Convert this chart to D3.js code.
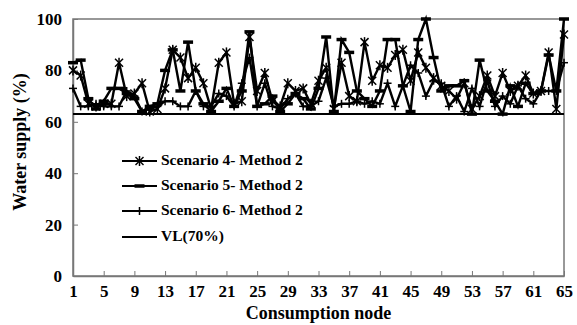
<!DOCTYPE html>
<html><head><meta charset="utf-8">
<script src="https://cdn.jsdelivr.net/npm/d3@7"></script>
<style>body{margin:0;background:#fff}text{font-family:"Liberation Serif","Times New Roman",serif;font-weight:bold}</style>
</head><body><svg id="c" width="577" height="325"></svg>
<script>
const nodes = d3.range(1, 66);
const xTicks = [1,5,9,13,17,21,25,29,33,37,41,45,49,53,57,61,65];
const yTicks = [0,20,40,60,80,100];
const seriesNames = ["Scenario 4- Method 2","Scenario 5- Method 2","Scenario 6- Method 2","VL(70%)"];
const s4 = [80,78,67,66,67,67,83,70,71,75,64,65,73,88,85,77,81,75,65,83,87,67,68,93,72,79,68,66,75,72,73,67,76,81,65,83,70,68,91,76,82,81,86,88,76,87,81,77,74,72,69,75,65,70,78,70,79,72,74,78,71,72,87,65,94];
const s5 = [83,84,69,65,68,73,73,71,69,64,66,67,80,88,72,91,72,67,64,68,73,66,72,95,66,67,70,64,67,71,69,65,73,93,64,92,87,72,69,66,72,92,92,74,64,92,100,85,72,74,74,76,63,84,72,68,63,74,66,75,71,72,86,72,100];
const s6 = [73,66,66,67,66,66,66,72,70,64,65,66,68,68,66,66,72,66,66,71,70,66,75,85,66,75,66,65,69,71,66,66,68,77,66,67,67,68,67,68,67,75,66,74,82,79,70,76,75,66,70,64,73,66,76,66,70,67,74,69,67,72,72,72,83];
const vl = 63;

const svg = d3.select("#c");
const L=73,R=564,T=19,B=276;
const x = d3.scaleLinear().domain([1,65]).range([L,R]);
const y = d3.scaleLinear().domain([0,100]).range([B,T]);
const grey="#777";

svg.append("rect").attr("x",L).attr("y",T).attr("width",R-L).attr("height",B-T).attr("fill","none").attr("stroke",grey).attr("stroke-width",1.5);

const xa = svg.append("g").attr("transform",`translate(0,${B})`)
  .call(d3.axisBottom(x).tickValues(xTicks).tickSizeInner(-5).tickSizeOuter(0).tickPadding(9));
const ya = svg.append("g").attr("transform",`translate(${L},0)`)
  .call(d3.axisLeft(y).tickValues(yTicks).tickSizeInner(-5).tickSizeOuter(0).tickPadding(11));
[xa,ya].forEach(a=>{a.selectAll("path").attr("stroke",grey).attr("stroke-width",1.5);
  a.selectAll("line").attr("stroke",grey).attr("stroke-width",1);
  a.selectAll("text").attr("font-size",17).attr("fill","#000").attr("font-family","Liberation Serif").attr("font-weight","bold");});

svg.append("text").attr("x",(L+R)/2 - 0).attr("y",319).attr("text-anchor","middle").attr("font-size",18).text("Consumption node");
svg.append("text").attr("transform",`translate(22,${142}) rotate(-90)`).attr("text-anchor","middle").attr("dominant-baseline","middle").attr("font-size",18).text("Water supply (%)");

function marker(g, type){
  const s=4;
  if(type==="star"){
    g.append("line").attr("x1",-s).attr("y1",-s).attr("x2",s).attr("y2",s);
    g.append("line").attr("x1",-s).attr("y1",s).attr("x2",s).attr("y2",-s);
    g.append("line").attr("x1",0).attr("y1",-s-1).attr("x2",0).attr("y2",s+1);
  } else if(type==="dash"){
    g.append("line").attr("x1",-s-1).attr("y1",0).attr("x2",s+1).attr("y2",0).attr("stroke-width",3.5);
  } else if(type==="plus"){
    g.append("line").attr("x1",-s).attr("y1",0).attr("x2",s).attr("y2",0);
    g.append("line").attr("x1",0).attr("y1",-s).attr("x2",0).attr("y2",s);
  }
  g.selectAll("line").attr("stroke","#000").each(function(){ if(!this.getAttribute("stroke-width")) this.setAttribute("stroke-width",1.5);});
}

const line = d3.line().x((d,i)=>x(nodes[i])).y(d=>y(d));
const series = [[s4,"star"],[s5,"dash"],[s6,"plus"]];
svg.append("line").attr("x1",x(1)).attr("x2",x(65)).attr("y1",y(vl)).attr("y2",y(vl)).attr("stroke","#000").attr("stroke-width",2);
series.forEach(([data,type])=>{
  svg.append("path").datum(data).attr("d",line).attr("fill","none").attr("stroke","#000").attr("stroke-width",2.4).attr("stroke-linejoin","miter");
  data.forEach((v,i)=>{ const g=svg.append("g").attr("transform",`translate(${x(nodes[i])},${y(v)})`); marker(g,type);});
});

const legY=[161,186,211,237];
const types=["star","dash","plus",null];
seriesNames.forEach((n,i)=>{
  svg.append("line").attr("x1",122).attr("x2",157).attr("y1",legY[i]).attr("y2",legY[i]).attr("stroke","#000").attr("stroke-width",2);
  if(types[i]){const g=svg.append("g").attr("transform",`translate(139.5,${legY[i]})`); marker(g,types[i]);}
  svg.append("text").attr("x",161).attr("y",legY[i]).attr("dominant-baseline","middle").attr("font-size",15.5).text(n);
});
</script></body></html>
